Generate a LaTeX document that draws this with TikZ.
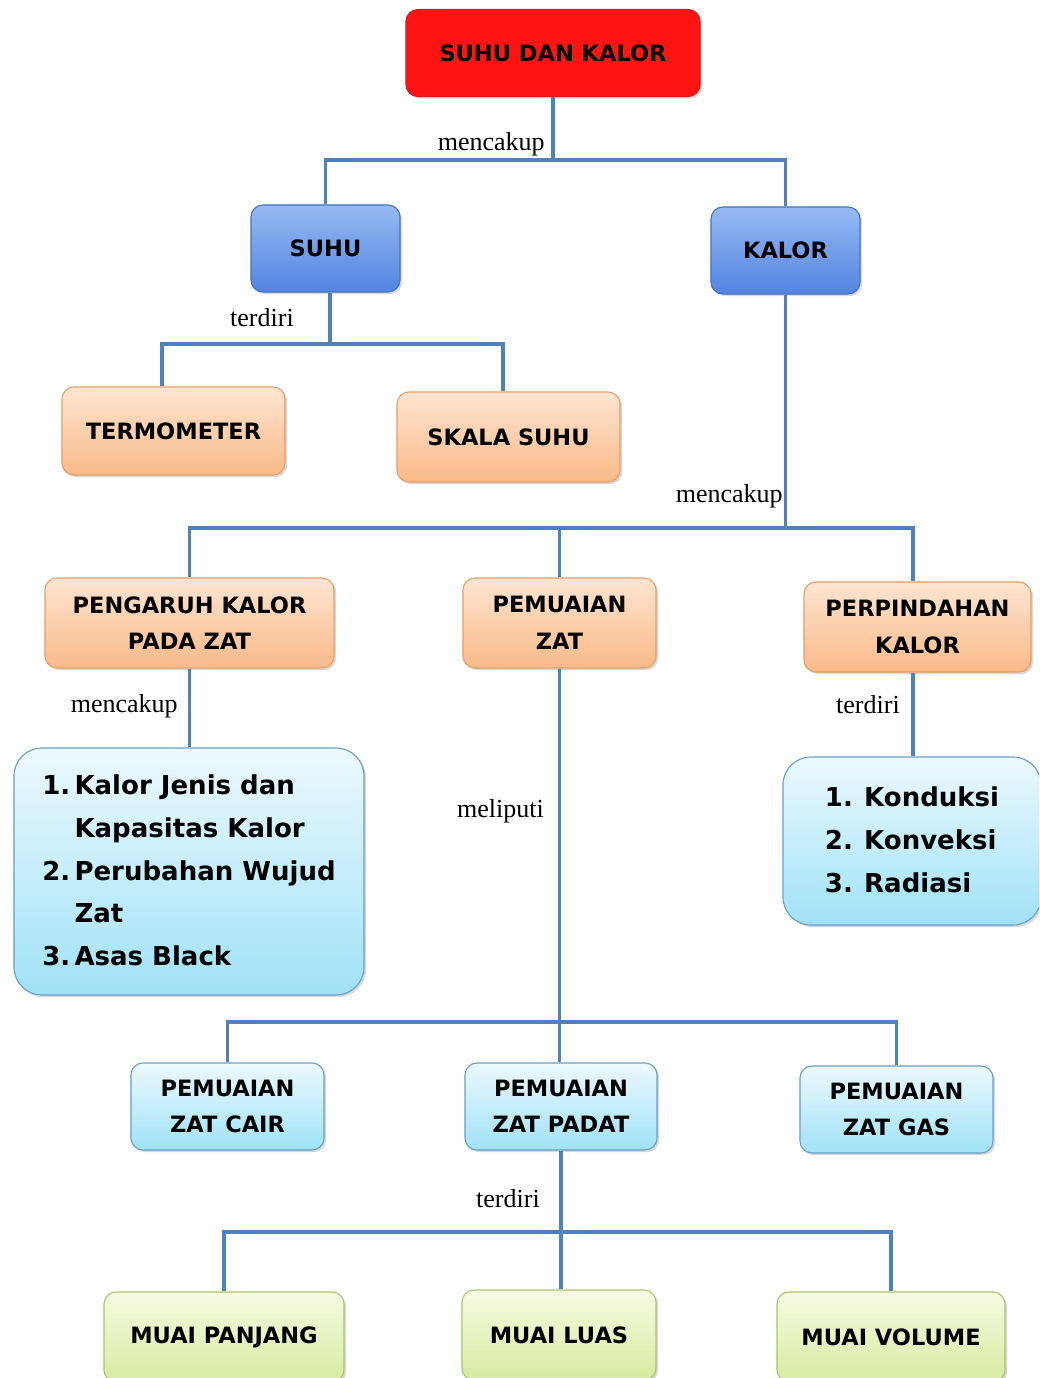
\documentclass[tikz,border=0pt]{standalone}
\usepackage{fontspec}
\setmainfont{Liberation Serif}
\newfontfamily\boxfont{DejaVu Sans}
\usetikzlibrary{shadows}

\definecolor{linkblue}{RGB}{79,129,189}
\definecolor{redtop}{RGB}{255,20,20}
\definecolor{redline}{RGB}{205,30,30}
\definecolor{bluetop}{RGB}{150,186,242}
\definecolor{bluebot}{RGB}{82,132,226}
\definecolor{blueline}{RGB}{70,115,190}
\definecolor{orangetop}{RGB}{253,229,210}
\definecolor{orangebot}{RGB}{250,186,136}
\definecolor{orangeline}{RGB}{232,160,105}
\definecolor{cyantop}{RGB}{236,249,253}
\definecolor{cyanbot}{RGB}{160,226,248}
\definecolor{cyanline}{RGB}{105,160,198}
\definecolor{greentop}{RGB}{246,251,226}
\definecolor{greenbot}{RGB}{214,235,160}
\definecolor{greenline}{RGB}{172,198,112}

\begin{document}
\begin{tikzpicture}[
  x=0.025cm, y=-0.025cm,
  every node/.style={font=\boxfont\bfseries\fontsize{16}{26}\selectfont, align=center, inner sep=2pt},
  box/.style={draw, line width=0.8pt, rounded corners=0.3cm,
    drop shadow={opacity=0.3, shadow xshift=1.5pt, shadow yshift=-1.5pt}},
  redbox/.style={box, draw=redline, fill=redtop},
  bluebox/.style={box, draw=blueline, top color=bluetop, bottom color=bluebot},
  orangebox/.style={box, draw=orangeline, top color=orangetop, bottom color=orangebot},
  cyanbox/.style={box, draw=cyanline, top color=cyantop, bottom color=cyanbot},
  listbox/.style={cyanbox, rounded corners=0.7cm, font=\boxfont\bfseries\fontsize{18.5}{30.5}\selectfont},
  greenbox/.style={box, draw=greenline, top color=greentop, bottom color=greenbot},
  link/.style={draw=linkblue, line width=2.3pt},
  lbl/.style={font=\fontsize{18.5}{20}\selectfont, anchor=east, inner sep=0pt}
]
\fill[white] (0,0) rectangle (1039,1378);
\useasboundingbox (0,0) rectangle (1039,1378);
\clip (0,0) rectangle (1039,1378);

% boxes
\node[redbox, minimum width=7.35cm, minimum height=2.175cm] (root) at (553,53) {SUHU DAN KALOR};
\node[bluebox, minimum width=3.725cm, minimum height=2.175cm] (suhu) at (325.5,248.5) {SUHU};
\node[bluebox, minimum width=3.725cm, minimum height=2.175cm] (kalor) at (785.5,250.5) {KALOR};
\node[orangebox, minimum width=5.575cm, minimum height=2.2cm] (termometer) at (173.5,431) {TERMOMETER};
\node[orangebox, minimum width=5.575cm, minimum height=2.25cm] (skala) at (508.5,437) {SKALA SUHU};
\node[orangebox, minimum width=7.225cm, minimum height=2.25cm] (pengaruh) at (189.5,623) {PENGARUH KALOR\\PADA ZAT};
\node[orangebox, minimum width=4.825cm, minimum height=2.25cm] (pemuaian) at (559.5,623) {PEMUAIAN\\ZAT};
\node[orangebox, minimum width=5.675cm, minimum height=2.25cm] (perpindahan) at (917.5,627) {PERPINDAHAN\\KALOR};
\node[listbox, minimum width=8.75cm, minimum height=6.175cm] (efek) at (189,871.5) {%
  \begin{tabular}{@{}l@{\hspace{3pt}}l@{}}
  1. & Kalor Jenis dan\\
     & Kapasitas Kalor\\
  2. & Perubahan Wujud\\
     & Zat\\
  3. & Asas Black
  \end{tabular}};
\node[listbox, minimum width=6.45cm, minimum height=4.2cm] (cara) at (912,841) {%
  \begin{tabular}{@{}l@{\hspace{8pt}}l@{}}
  1. & Konduksi\\
  2. & Konveksi\\
  3. & Radiasi
  \end{tabular}};
\node[cyanbox, minimum width=4.825cm, minimum height=2.175cm] (cair) at (227.5,1106.5) {PEMUAIAN\\ZAT CAIR};
\node[cyanbox, minimum width=4.8cm, minimum height=2.175cm] (padat) at (561,1106.5) {PEMUAIAN\\ZAT PADAT};
\node[cyanbox, minimum width=4.825cm, minimum height=2.175cm] (gas) at (896.5,1109.5) {PEMUAIAN\\ZAT GAS};
\node[greenbox, minimum width=6cm, minimum height=2.25cm] (panjang) at (224,1337) {MUAI PANJANG};
\node[greenbox, minimum width=4.85cm, minimum height=2.25cm] (luas) at (559,1335) {MUAI LUAS};
\node[greenbox, minimum width=5.7cm, minimum height=2.25cm] (volume) at (891,1337) {MUAI VOLUME};

% junctions
\coordinate (j1) at (root.south |- 0,160);
\coordinate (j2) at ([xshift=0.11cm]suhu.south |- 0,344);
\coordinate (j3) at (kalor.south |- 0,528);
\coordinate (j4) at (pemuaian.south |- 0,1022);
\coordinate (j5) at (padat.south |- 0,1232);

% connectors
\draw[link] (root.south) -- (j1);
\draw[link] (suhu.north) |- (j1) -| (kalor.north);
\draw[link] (j2 |- suhu.south) -- (j2);
\draw[link] ([xshift=-0.29cm]termometer.north) |- (j2) -| ([xshift=-0.14cm]skala.north);
\draw[link] (kalor.south) -- (j3);
\draw[link] (pengaruh.north) |- (j3) -| ([xshift=-0.11cm]perpindahan.north);
\draw[link] (pemuaian.north) -- (pemuaian.north |- j3);
\draw[link] (pengaruh.south) -- (pengaruh.south |- efek.north);
\draw[link] ([xshift=-0.11cm]perpindahan.south) -- ([xshift=-0.11cm]perpindahan.south |- cara.north);
\draw[link] (pemuaian.south) -- (pemuaian.south |- padat.north);
\draw[link] (cair.north) |- (j4) -| (gas.north);
\draw[link] (padat.south) -- (padat.south |- luas.north);
\draw[link] (panjang.north) |- (j5) -| (volume.north);

% labels
\node[lbl] (l1) at (545,144) {mencakup};
\node[lbl] (l2) at (294,318) {terdiri};
\node[lbl] (l3) at (783,496) {mencakup};
\node[lbl] (l4) at (178,706) {mencakup};
\node[lbl] (l5) at (900,705) {terdiri};
\node[lbl] (l6) at (544,811) {meliputi};
\node[lbl] (l7) at (540,1199) {terdiri};
\end{tikzpicture}
\end{document}
